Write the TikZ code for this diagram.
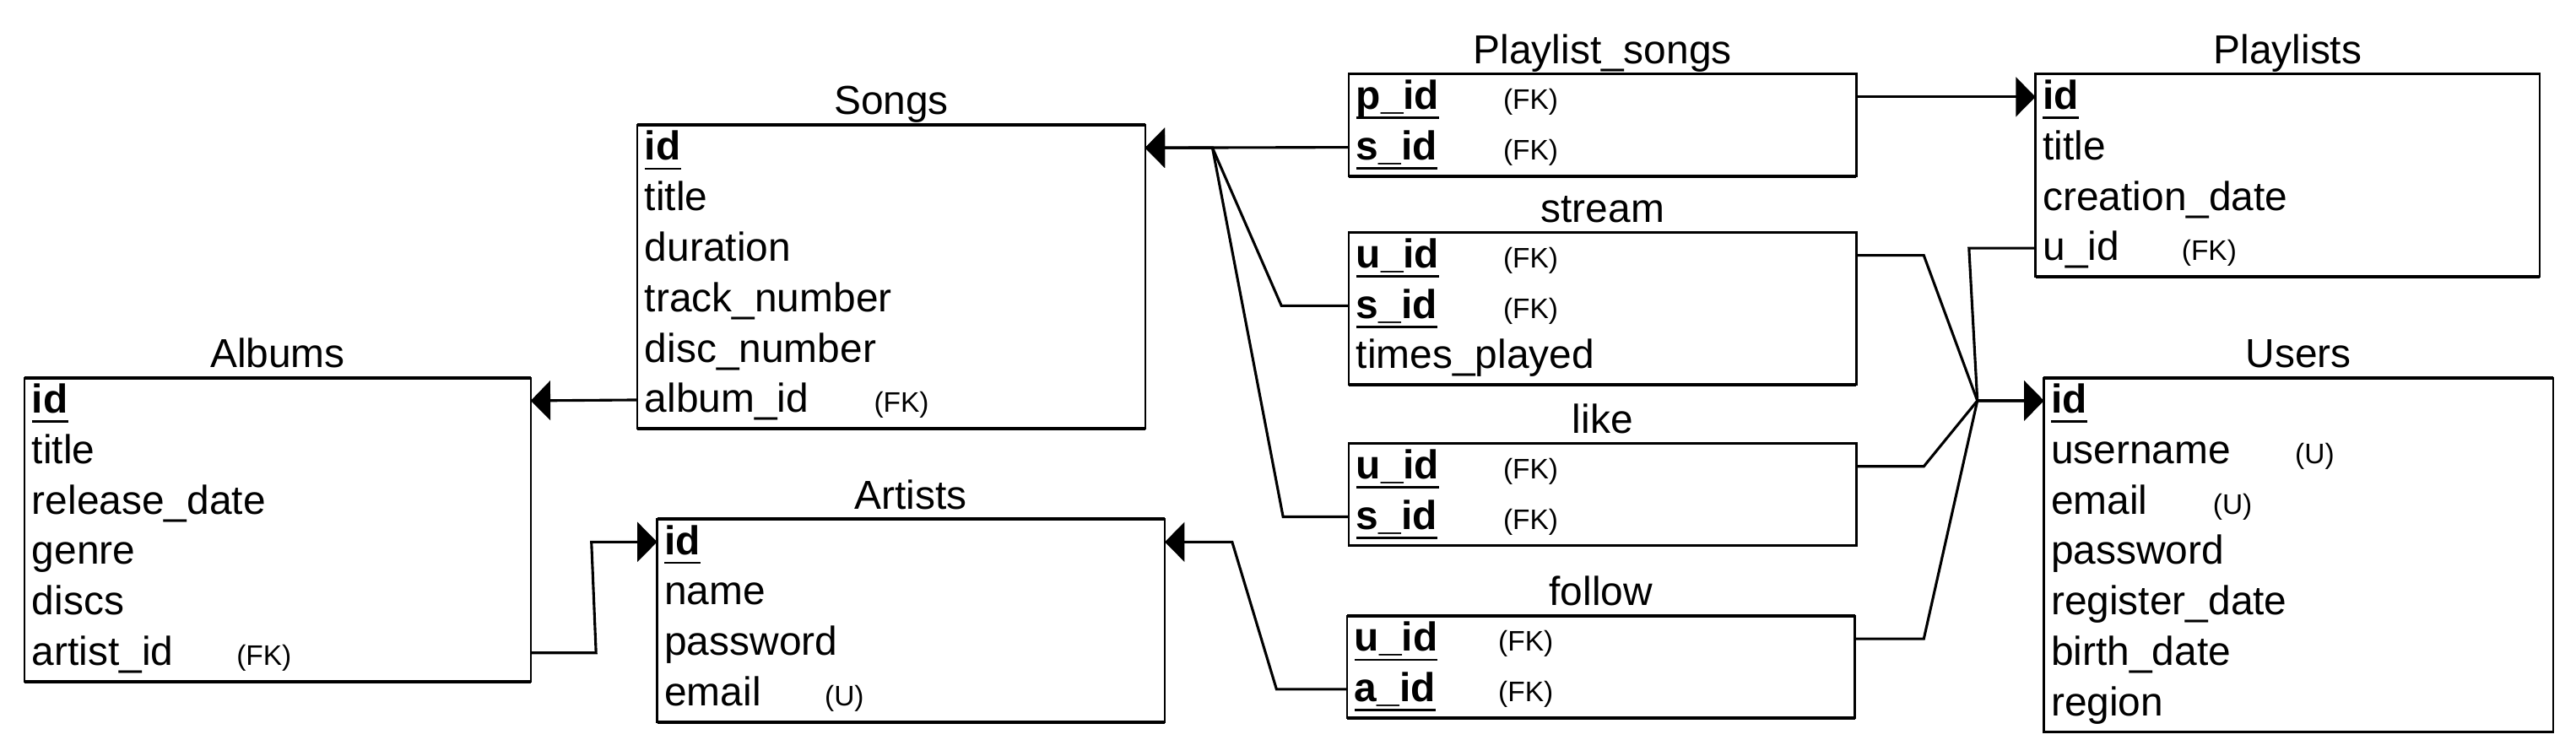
\documentclass[tikz,border=0pt]{standalone}
\usepackage{fontspec}
\setmainfont{Liberation Sans}
\usetikzlibrary{arrows.meta}
\newcommand\pkey[1]{\setbox0\hbox{\bfseries #1}\rlap{\vrule height -2.2pt depth 2.9pt width \wd0}\box0}
\newcommand\fk[1]{{\fontsize{8.6}{10}\selectfont #1}}
\newcommand\fkat[2]{\makebox[#1][l]{#2}}
\begin{document}
\begin{tikzpicture}[x=0.5pt,y=-0.5pt,
  tbox/.style={draw, line width=0.6pt, anchor=north west, inner sep=0pt, outer sep=0pt, minimum width=#1},
  row/.style={anchor=west, inner xsep=2.25pt, inner ysep=0pt, outer sep=0pt, text width=#1, align=left,
              text height=11.475pt, text depth=3.875pt, font=\fontsize{12.3}{14}\selectfont},
  ttl/.style={anchor=base, inner sep=0pt, font=\fontsize{12.3}{14}\selectfont},
  rim/.style={line width=0.95pt},
  conn/.style={line width=0.8pt, line join=miter},
  arr/.style={-{Triangle[length=6pt,width=12pt]}}]
\useasboundingbox (0,0) rectangle (1568,460.3);

% ---------- Songs ----------
\node[tbox=154.5pt, minimum height=92.5pt] (songs) at (388,76) {};
\node[ttl] (songs-t) at (542.5,69.8) {Songs};
\node[row=150pt] (songs-id) at (388,90) {\pkey{id}};
\node[row=150pt] (songs-title) at (388,120.7) {title};
\node[row=150pt] (songs-dur) at (388,151.4) {duration};
\node[row=150pt] (songs-track) at (388,182.1) {track\_number};
\node[row=150pt] (songs-disc) at (388,212.8) {disc\_number};
\node[row=150pt] (songs-album) at (388,243.5) {\fkat{69.75pt}{album\_id}\fk{(FK)}};

% ---------- Albums ----------
\node[tbox=154pt, minimum height=92.5pt] (albums) at (15,230) {};
\node[ttl] (albums-t) at (169,223.8) {Albums};
\node[row=149.5pt] (albums-id) at (15,244) {\pkey{id}};
\node[row=149.5pt] (albums-title) at (15,274.7) {title};
\node[row=149.5pt] (albums-rel) at (15,305.4) {release\_date};
\node[row=149.5pt] (albums-genre) at (15,336.1) {genre};
\node[row=149.5pt] (albums-discs) at (15,366.8) {discs};
\node[row=149.5pt] (albums-artist) at (15,397.5) {\fkat{62.25pt}{artist\_id}\fk{(FK)}};

% ---------- Artists ----------
\node[tbox=154.5pt, minimum height=61.8pt] (artists) at (400,316) {};
\node[ttl] (artists-t) at (554.5,309.8) {Artists};
\node[row=150pt] (artists-id) at (400,330) {\pkey{id}};
\node[row=150pt] (artists-name) at (400,360.7) {name};
\node[row=150pt] (artists-pw) at (400,391.4) {password};
\node[row=150pt] (artists-mail) at (400,422.1) {\fkat{48.75pt}{email}\fk{(U)}};

% ---------- Playlist_songs ----------
\node[tbox=154.5pt, minimum height=31.1pt] (ps) at (821,45) {};
\node[ttl] (ps-t) at (975.5,38.8) {Playlist\_songs};
\node[row=150pt] (ps-pid) at (821,59) {\fkat{44.75pt}{\pkey{p\_id}}\fk{(FK)}};
\node[row=150pt] (ps-sid) at (821,89.7) {\fkat{44.75pt}{\pkey{s\_id}}\fk{(FK)}};

% ---------- stream ----------
\node[tbox=154.5pt, minimum height=46.45pt] (stream) at (821,141.5) {};
\node[ttl] (stream-t) at (975.5,135.3) {stream};
\node[row=150pt] (stream-uid) at (821,155.5) {\fkat{44.75pt}{\pkey{u\_id}}\fk{(FK)}};
\node[row=150pt] (stream-sid) at (821,186.2) {\fkat{44.75pt}{\pkey{s\_id}}\fk{(FK)}};
\node[row=150pt] (stream-tp) at (821,216.9) {times\_played};

% ---------- like ----------
\node[tbox=154.5pt, minimum height=31.1pt] (like) at (821,270) {};
\node[ttl] (like-t) at (975.5,263.8) {like};
\node[row=150pt] (like-uid) at (821,284) {\fkat{44.75pt}{\pkey{u\_id}}\fk{(FK)}};
\node[row=150pt] (like-sid) at (821,314.7) {\fkat{44.75pt}{\pkey{s\_id}}\fk{(FK)}};

% ---------- follow ----------
\node[tbox=154.5pt, minimum height=31.1pt] (follow) at (820,375) {};
\node[ttl] (follow-t) at (974.5,368.8) {follow};
\node[row=150pt] (follow-uid) at (820,389) {\fkat{43.75pt}{\pkey{u\_id}}\fk{(FK)}};
\node[row=150pt] (follow-aid) at (820,419.7) {\fkat{43.75pt}{\pkey{a\_id}}\fk{(FK)}};

% ---------- Playlists ----------
\node[tbox=153.5pt, minimum height=61.8pt] (pl) at (1239,45) {};
\node[ttl] (pl-t) at (1392.5,38.8) {Playlists};
\node[row=149pt] (pl-id) at (1239,59) {\pkey{id}};
\node[row=149pt] (pl-title) at (1239,89.7) {title};
\node[row=149pt] (pl-cd) at (1239,120.4) {creation\_date};
\node[row=149pt] (pl-uid) at (1239,151.1) {\fkat{42.25pt}{u\_id}\fk{(FK)}};

% ---------- Users ----------
\node[tbox=155pt, minimum height=107.85pt] (users) at (1244,230) {};
\node[ttl] (users-t) at (1399,223.8) {Users};
\node[row=150.5pt] (users-id) at (1244,244) {\pkey{id}};
\node[row=150.5pt] (users-un) at (1244,274.7) {\fkat{74.25pt}{username}\fk{(U)}};
\node[row=150.5pt] (users-mail) at (1244,305.4) {\fkat{49.25pt}{email}\fk{(U)}};
\node[row=150.5pt] (users-pw) at (1244,336.1) {password};
\node[row=150.5pt] (users-reg) at (1244,366.8) {register\_date};
\node[row=150.5pt] (users-birth) at (1244,397.5) {birth\_date};
\node[row=150.5pt] (users-region) at (1244,428.2) {region};

% thicker top and bottom rims
\foreach \b in {songs,albums,artists,ps,stream,like,follow,pl,users}{
  \draw[rim] (\b.north west) -- (\b.north east);
  \draw[rim] (\b.south west) -- (\b.south east);
}

% ---------- connectors ----------
\coordinate (jS) at (738,90);
\coordinate (jU) at (1203.6,244);

\draw[conn,arr] (songs-album.west) -- (albums-id.east);
\draw[conn,arr] (albums-artist.east) -- (362.8,397.5) -- (360,330) -- (artists-id.west);
\draw[conn,arr] (follow-aid.west) -- (777,419.7) -- (750,330) -- (artists-id.east);

\draw[conn,arr] (ps-sid.west) -- (songs-id.east);
\draw[conn,arr] (stream-sid.west) -- (780,186.2) -- (jS) -- (songs-id.east);
\draw[conn,arr] (like-sid.west) -- (781,314.7) -- (jS) -- (songs-id.east);

\draw[conn,arr] (ps-pid.east) -- (pl-id.west);

\draw[conn,arr] (stream-uid.east) -- (1171,155.5) -- (jU) -- (users-id.west);
\draw[conn,arr] (like-uid.east) -- (1171,284) -- (jU) -- (users-id.west);
\draw[conn,arr] (follow-uid.east) -- (1171,389) -- (jU) -- (users-id.west);
\draw[conn,arr] (pl-uid.west) -- (1198.5,151.1) -- (jU) -- (users-id.west);
\end{tikzpicture}
\end{document}
